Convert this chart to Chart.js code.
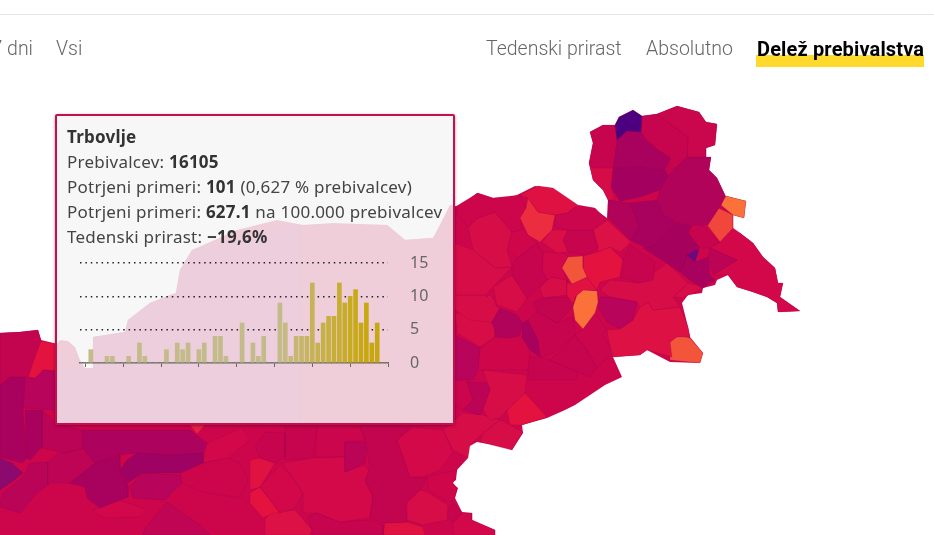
<!DOCTYPE html>
<html>
<head>
<meta charset="utf-8">
<script src="https://cdn.jsdelivr.net/npm/chart.js@4"></script>
<style>
    html, body { margin: 0; padding: 0; background: #fff; }
    body { position: relative; width: 934px; height: 535px; overflow: hidden; font-family: 'Noto Sans', sans-serif; }
    #map-chart { position: absolute; left: 0; top: 0; }
    .top-line { position: absolute; left: 0; top: 14px; width: 934px; height: 1px; background: #e6e6e6; }
    .nav { position: absolute; top: 37px; font-family: Roboto, sans-serif; font-weight: 300; font-size: 19.5px; line-height: 24px; color: #666; white-space: nowrap; }
    .nav.active { font-weight: 700; font-size: 20px; letter-spacing: 0.15px; color: #000; }
    .marker { position: absolute; left: 756px; top: 55px; width: 168px; height: 12px; background: #ffd92b; }
    .tip { position: absolute; left: 55px; top: 114px; width: 396px; height: 307px; background: rgba(245, 245, 245, 0.84); border: 2px solid #c70f50; border-radius: 2px; box-shadow: 0 1px 3px rgba(90, 0, 40, 0.5); }
    .tip-text { position: absolute; left: 67px; font-size: 17px; letter-spacing: 0.23px; line-height: 25px; color: #444; white-space: nowrap; }
    .tip-text b { color: #333; }
    #bar-chart { position: absolute; left: 70px; top: 250px; }
</style>
</head>
<body>
<canvas id="map-chart" width="934" height="535"></canvas>
<div class="top-line"></div>
<div class="nav" style="right: 901px">7 dni</div>
<div class="nav" style="left: 56px">Vsi</div>
<div class="nav" style="left: 486px">Tedenski prirast</div>
<div class="nav" style="left: 646px">Absolutno</div>
<div class="marker"></div>
<div class="nav active" style="left: 757px">Delež prebivalstva</div>
<div class="tip"></div>
<div class="tip-text" style="top: 124px"><b>Trbovlje</b></div>
<div class="tip-text" style="top: 149px">Prebivalcev: <b>16105</b></div>
<div class="tip-text" style="top: 174px">Potrjeni primeri: <b>101</b> (0,627 % prebivalcev)</div>
<div class="tip-text" style="top: 199px">Potrjeni primeri: <b>627.1</b> na 100.000 prebivalcev</div>
<div class="tip-text" style="top: 224px">Tedenski prirast: <b>−19,6%</b></div>
<canvas id="bar-chart" width="370" height="125"></canvas>
<script>
// Daily cases in the tooltip (day -1 .. 56)
const days = [-1, 0, 1, 2, 3, 4, 5, 6, 7, 8, 9, 10, 11, 12, 13, 14, 15, 16, 17, 18, 19, 20, 21, 22, 23, 24, 25, 26, 27, 28, 29, 30, 31, 32, 33, 34, 35, 36, 37, 38, 39, 40, 41, 42, 43, 44, 45, 46, 47, 48, 49, 50, 51, 52, 53, 54, 55, 56];
const dailyCases = [0, 0, 2, 0, 0, 1, 1, 0, 0, 1, 0, 3, 1, 0, 0, 0, 2, 0, 3, 2, 3, 0, 2, 3, 0, 4, 4, 1, 0, 0, 6, 0, 3, 1, 4, 0, 0, 9, 6, 1, 4, 4, 4, 12, 3, 6, 7, 7, 12, 9, 10, 11, 6, 9, 3, 6, 0, 0];
const caseTicks = [0, 5, 10, 15];

// Map outline and municipalities, in map units
const countryOutline = [0,333, 20,332, 38,330, 41,340, 57,344, 60,340, 68,341, 75,347, 80,360, 85,368, 93,368, 93,337, 125,332, 128,320, 150,303, 170,295, 176,293, 180,270, 192,250, 237,230, 277,220, 303,225, 333,223, 387,225, 405,240, 433,238, 450,205, 459,207, 477,193, 493,198, 513,197, 535,186, 550,188, 577,206, 593,208, 607,218, 608,200, 603,190, 593,180, 589,163, 593,143, 590,132, 603,125, 615,125, 619,117, 633,110, 642,116, 657,114, 677,106, 699,112, 706,122, 717,124, 715,145, 706,148, 706,157, 711,157, 709,170, 717,178, 725,195, 726,196, 746,201, 744,218, 733,215, 733,230, 740,233, 753,243, 763,257, 775,268, 778,283, 783,283, 780,297, 800,311, 778,312, 777,303, 767,297, 753,292, 737,287, 728,275, 717,280, 715,285, 703,288, 702,293, 688,295, 682,303, 688,327, 690,337, 703,353, 700,363, 670,362, 647,350, 640,355, 613,357, 622,377, 605,385, 590,395, 575,405, 565,410, 547,418, 522,425, 523,433, 512,450, 507,447, 477,442, 468,447, 468,458, 457,470, 456,480, 452,483, 458,488, 455,498, 462,512, 472,513, 472,520, 495,530, 495,535, 0,535];

const regionOutlines = [
    [615,125, 619,117, 633,110, 642,116, 641,132, 627,131, 617,140],
    [590,132, 603,125, 615,125, 617,140, 613,168, 592,168, 589,163, 593,143],
    [589,163, 613,168, 611,187, 615,200, 608,200, 603,190, 593,180],
    [617,140, 627,131, 641,132, 646,140, 658,150, 670,158, 665,170, 640,167, 613,168],
    [613,168, 640,167, 665,170, 668,175, 660,190, 640,197, 620,201, 611,187],
    [642,116, 657,114, 688,137, 687,157, 675,168, 667,172, 670,158, 658,150, 646,140, 641,132],
    [657,114, 677,106, 699,112, 706,122, 717,124, 715,145, 706,148, 706,157, 687,157, 688,137],
    [687,157, 711,157, 709,170, 717,178, 725,195, 721,205, 708,225, 690,226, 663,215, 657,200, 660,190, 668,175],
    [608,200, 630,203, 639,227, 630,240, 608,218],
    [630,203, 657,200, 663,215, 677,222, 655,245, 647,248, 630,240, 639,227],
    [677,222, 692,227, 688,233, 700,248, 687,255, 680,272, 665,262, 643,248, 655,245],
    [680,272, 687,255, 695,262, 708,257, 710,275, 715,280, 702,288, 690,280],
    [710,248, 737,260, 713,275, 708,257],
    [688,233, 703,226, 720,242, 710,248, 700,248],
    [683,263, 688,248, 699,250, 695,262],
    [705,222, 712,205, 733,215, 733,228, 720,242],
    [726,196, 746,201, 744,218, 733,215, 721,205],
    [720,242, 733,228, 740,233, 753,243, 763,257, 775,268, 778,283, 783,283, 780,297, 800,311, 778,312, 777,303, 767,297, 753,292, 737,287, 728,275, 713,275, 737,260, 710,248],
    [520,195, 538,186, 553,188, 578,205, 567,213, 555,215, 538,212, 528,198],
    [528,198, 538,212, 555,215, 552,230, 540,242, 528,235, 520,218, 526,208],
    [555,215, 567,213, 578,205, 595,208, 607,220, 593,230, 568,230, 555,227],
    [552,230, 568,230, 563,240, 568,252, 557,253, 542,242],
    [568,230, 593,230, 598,247, 587,255, 568,252, 563,240],
    [593,230, 607,220, 631,242, 620,252, 610,247, 598,252, 598,247],
    [562,268, 568,257, 583,256, 583,268, 587,277, 572,284],
    [583,256, 598,252, 610,247, 623,260, 620,277, 600,282, 597,290, 587,277, 583,268],
    [567,283, 572,284, 587,277, 597,290, 583,290, 575,297, 573,304, 567,295],
    [577,295, 583,290, 597,291, 598,302, 595,313, 583,329, 575,320, 573,307],
    [600,297, 610,297, 637,302, 633,320, 620,329, 607,322, 598,307],
    [623,260, 630,245, 655,262, 653,280, 640,283, 620,277],
    [600,290, 610,280, 640,283, 667,263, 688,283, 673,297, 680,307, 653,310, 648,302, 640,307, 637,302, 610,297],
    [688,283, 705,287, 693,293, 682,298, 673,297],
    [607,330, 620,329, 633,320, 640,307, 648,302, 653,310, 680,307, 688,327, 690,337, 677,337, 670,342, 672,357, 647,350, 640,355, 613,357, 608,337],
    [670,342, 678,335, 690,338, 703,353, 700,363, 670,360],
    [455,207, 478,193, 493,198, 520,195, 526,208, 520,218, 522,230, 512,232, 495,212, 478,218, 468,227, 457,213],
    [468,227, 478,218, 495,212, 512,232, 507,250, 512,267, 495,268, 483,258, 473,250],
    [455,243, 473,250, 483,258, 495,268, 512,267, 493,287, 485,295, 455,295],
    [512,232, 522,227, 528,235, 537,243, 517,258, 507,250],
    [517,258, 537,243, 543,252, 542,270, 547,280, 527,298, 512,275, 512,267],
    [543,252, 563,253, 568,257, 562,268, 567,280, 552,277, 547,280, 542,270],
    [493,287, 512,275, 527,298, 517,312, 497,305],
    [547,280, 552,277, 567,280, 567,295, 543,298, 540,288],
    [533,302, 543,298, 567,297, 573,307, 557,323, 547,317, 537,312],
    [492,322, 500,308, 517,315, 522,322, 520,335, 510,338, 497,337],
    [528,320, 537,312, 547,317, 557,323, 573,317, 575,335, 553,353, 540,357, 538,340],
    [522,323, 528,320, 538,340, 540,357, 530,350, 522,337],
    [575,335, 583,329, 595,313, 607,330, 602,335, 613,353, 597,367, 585,347],
    [558,353, 575,335, 585,347, 597,367, 590,377, 578,372, 550,360],
    [455,295, 485,295, 495,305, 500,308, 492,322, 470,320, 455,310],
    [482,300, 490,295, 498,308, 495,318, 485,313],
    [455,313, 485,315, 495,327, 495,337, 480,347, 457,333],
    [454,335, 480,348, 478,370, 473,380, 455,380],
    [480,348, 495,337, 522,337, 530,350, 528,370, 477,370],
    [528,357, 540,357, 550,360, 578,372, 577,380, 528,380],
    [507,410, 525,393, 547,417, 522,425, 510,425],
    [483,370, 527,375, 525,393, 507,410, 500,418, 490,420, 483,410, 490,390],
    [467,382, 490,383, 490,403, 480,415, 463,410, 473,400],
    [453,370, 477,370, 467,382, 473,400, 463,410, 453,403],
    [443,430, 463,413, 483,415, 500,420, 483,433, 470,445, 468,458, 453,450],
    [480,442, 483,433, 500,420, 510,425, 523,432, 512,450],
    [397,440, 413,427, 443,430, 453,452, 440,470, 423,477, 410,477, 405,462],
    [360,425, 413,425, 397,440, 405,462, 410,477, 427,477, 420,490, 405,503, 407,522, 383,523, 370,518, 373,495, 365,480, 370,467, 365,440],
    [345,442, 367,442, 365,463, 345,472],
    [282,463, 313,458, 345,457, 345,472, 365,465, 370,472, 365,482, 373,497, 370,518, 340,522, 317,513, 303,513, 303,493, 293,478],
    [260,487, 280,465, 293,478, 303,493, 295,508, 280,513],
    [255,447, 265,432, 285,433, 285,457, 275,463, 260,458],
    [285,427, 317,427, 313,458, 285,460],
    [317,427, 360,427, 365,440, 345,442, 345,457, 315,457],
    [250,460, 260,458, 275,463, 260,487, 250,490],
    [250,493, 260,487, 280,513, 273,513, 263,518, 250,503],
    [270,513, 295,510, 312,530, 310,535, 265,535, 265,520],
    [308,517, 317,513, 340,522, 370,520, 383,525, 383,535, 313,535],
    [385,523, 407,522, 423,527, 425,535, 383,535],
    [407,503, 420,490, 427,492, 448,505, 447,520, 423,525, 407,520],
    [427,477, 442,473, 457,470, 453,483, 457,488, 454,500, 448,502, 428,490],
    [445,513, 453,503, 462,512, 452,523],
    [453,523, 462,513, 472,513, 472,520, 495,530, 495,535, 453,535],
    [0,333, 20,332, 38,330, 41,340, 28,377, 25,377, 10,377, 0,385],
    [41,341, 57,344, 57,370, 43,370, 35,378, 28,377, 32,363],
    [0,385, 10,377, 25,377, 23,410, 27,458, 22,463, 0,457],
    [25,378, 35,378, 43,370, 57,372, 57,410, 23,408],
    [25,410, 42,410, 42,447, 30,460, 27,458],
    [42,410, 57,424, 82,430, 83,448, 65,453, 42,448],
    [0,458, 12,463, 23,473, 12,482, 0,490],
    [82,430, 190,430, 207,443, 203,453, 173,455, 137,453, 117,455, 95,463, 83,448],
    [120,470, 127,460, 137,453, 203,453, 203,463, 180,473, 142,473, 128,483],
    [65,453, 83,448, 95,463, 70,483, 48,483, 48,462, 58,453],
    [2,493, 23,477, 30,463, 48,462, 48,485, 37,493, 20,513, 0,507],
    [68,483, 95,463, 120,455, 120,470, 128,485, 128,497, 100,508, 87,498, 85,487],
    [130,487, 142,473, 180,475, 182,483, 165,500, 133,498],
    [93,510, 120,500, 147,510, 140,517, 103,518],
    [180,473, 203,463, 228,458, 240,463, 248,480, 240,498, 203,492, 182,483],
    [207,443, 230,433, 242,427, 250,440, 228,458, 203,463],
    [145,528, 167,502, 200,525, 210,535, 143,535],
    [190,425, 205,425, 197,434],
    // under the tooltip, only faintly visible
    [57,372, 93,368, 93,337, 125,332, 128,320, 150,303, 176,293, 180,270, 192,250, 300,225, 300,425, 57,425],
    [300,225, 387,225, 405,240, 433,238, 455,207, 455,425, 300,425]
];
const regionShares = [0, 0.53, 0.65, 0.36, 0.33, 0.52, 0.55, 0.41, 0.41, 0.36, 0.35, 0.36, 0.46, 0.53, 0.08, 0.87, 1, 0.62, 0.72, 0.82, 0.56, 0.68, 0.53, 0.7, 0.9, 0.76, 0.74, 1, 0.44, 0.52, 0.66, 0.66, 0.71, 0.9, 0.58, 0.66, 0.66, 0.6, 0.53, 0.62, 0.66, 0.66, 0.5, 0.41, 0.53, 0.36, 0.56, 0.53, 0.66, 0.7, 0.66, 0.44, 0.6, 0.53, 0.76, 0.66, 0.46, 0.56, 0.66, 0.66, 0.63, 0.5, 0.46, 0.63, 0.62, 0.53, 0.53, 0.56, 0.73, 0.76, 0.7, 0.53, 0.73, 0.66, 0.6, 0.53, 0.62, 0.5, 0.76, 0.36, 0.44, 0.36, 0.46, 0.2, 0.38, 0.3, 0.47, 0.45, 0.36, 0.44, 0.62, 0.58, 0.62, 0.48, 0.8, 0.45, 0.56];

// Colour scale of the map: share -> colour
const shareStops = [0, 0.08, 0.2, 0.33, 0.44, 0.5, 0.6, 0.7, 0.76, 0.82, 0.9, 1];
const shareColors = [[76,0,128], [106,10,130], [140,10,110], [163,0,95], [184,4,90], [195,5,79], [208,6,75], [220,17,69], [228,18,63], [236,44,63], [243,85,58], [250,114,58]];

function shareColor(share) {
    let i = 0;
    while (i < shareStops.length - 2 && share > shareStops[i + 1]) i++;
    const t = (share - shareStops[i]) / (shareStops[i + 1] - shareStops[i]);
    const c = shareColors[i].map((v, k) => Math.round(v + (shareColors[i + 1][k] - v) * t));
    return `rgb(${c[0]}, ${c[1]}, ${c[2]})`;
}

function toPoints(flat) {
    const pts = [];
    for (let i = 0; i < flat.length; i += 2) pts.push({ x: flat[i], y: flat[i + 1] });
    pts.push({ x: flat[0], y: flat[1] });
    return pts;
}

function regionDataset(flat, share, isBase) {
    const color = shareColor(share);
    return {
        data: toPoints(flat),
        showLine: true,
        fill: 'shape',
        backgroundColor: color,
        borderColor: isBase ? color : 'rgba(130, 0, 75, 0.3)',
        borderWidth: isBase ? 0 : 0.6,
        pointRadius: 0,
        tension: 0,
        order: isBase ? 1 : 0
    };
}

new Chart(document.getElementById('map-chart'), {
    type: 'scatter',
    data: {
        datasets: [regionDataset(countryOutline, 0.58, true)]
            .concat(regionOutlines.map((r, i) => regionDataset(r, regionShares[i], false)))
    },
    options: {
        responsive: false,
        maintainAspectRatio: false,
        animation: false,
        events: [],
        layout: { padding: 0 },
        scales: {
            x: { type: 'linear', display: false, min: 0, max: 934 },
            y: { type: 'linear', display: false, min: 0, max: 535, reverse: true }
        },
        plugins: { legend: { display: false }, tooltip: { enabled: false } }
    }
});

// Older days are paler, the last weeks go full colour
function barColor(ctx) {
    const t = Math.max(0, Math.min(1, (ctx.dataIndex - 37) / 15));
    const r = Math.round(196 + 4 * t);
    const g = Math.round(187 - 19 * t);
    const b = Math.round(138 - 122 * t);
    return `rgb(${r}, ${g}, ${b})`;
}

new Chart(document.getElementById('bar-chart'), {
    type: 'bar',
    data: {
        labels: days,
        datasets: [{ data: dailyCases, backgroundColor: barColor, barThickness: 4 }]
    },
    options: {
        responsive: false,
        maintainAspectRatio: false,
        animation: false,
        events: [],
        layout: { padding: { left: 10, top: 13, right: 0, bottom: 8 } },
        scales: {
            x: {
                offset: false,
                grid: {
                    offset: false,
                    drawOnChartArea: false,
                    tickLength: 4,
                    tickColor: (ctx) => ((days[ctx.index] >= 0 && days[ctx.index] % 7 === 0) ? '#666' : 'rgba(0,0,0,0)')
                },
                border: { color: '#666', width: 1.5 },
                ticks: { display: false, autoSkip: false }
            },
            y: {
                position: 'right',
                min: 0,
                max: 15,
                afterBuildTicks: (axis) => { axis.ticks = caseTicks.map((v) => ({ value: v })); },
                afterFit: (axis) => { axis.width = 52; },
                grid: {
                    tickLength: 22,
                    tickColor: 'rgba(0,0,0,0)',
                    lineWidth: 1.5,
                    color: (ctx) => (ctx.tick.value === 0 ? 'rgba(0,0,0,0)' : '#222')
                },
                border: { display: false, dash: [1.5, 3.9] },
                ticks: { color: '#666', padding: 0, font: { family: "'Noto Sans', sans-serif", size: 16 } }
            }
        },
        plugins: { legend: { display: false }, tooltip: { enabled: false } }
    }
});
</script>
</body>
</html>
